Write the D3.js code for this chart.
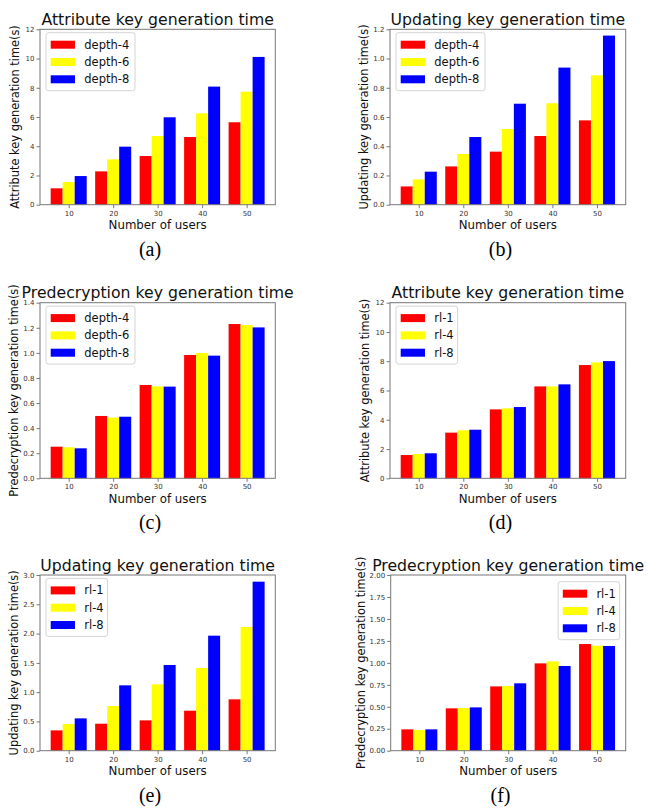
<!DOCTYPE html>
<html>
<head>
<meta charset="utf-8">
<script src="https://cdn.jsdelivr.net/npm/d3@7"></script>
<style>
  html, body { margin: 0; padding: 0; background: #fff; }
  svg { display: block; }
</style>
</head>
<body>
<svg id="chart" width="647" height="808"></svg>
<script>
// ---------- data ----------
const users = ["10", "20", "30", "40", "50"];
const depthSeries = ["depth-4", "depth-6", "depth-8"];
const rlSeries = ["rl-1", "rl-4", "rl-8"];
const seriesColors = ["#ff0000", "#ffff00", "#0000ff"];

// (a) Attribute key generation time by depth
const attrDepth4 = [1.12, 2.28, 3.33, 4.63, 5.64];
const attrDepth6 = [1.55, 3.10, 4.70, 6.25, 7.73];
const attrDepth8 = [1.96, 3.97, 5.98, 8.08, 10.11];
// (b) Updating key generation time by depth
const updDepth4 = [0.125, 0.262, 0.363, 0.470, 0.577];
const updDepth6 = [0.173, 0.347, 0.518, 0.694, 0.885];
const updDepth8 = [0.226, 0.463, 0.691, 0.938, 1.157];
// (c) Predecryption key generation time by depth
const preDepth4 = [0.252, 0.497, 0.744, 0.983, 1.230];
const preDepth6 = [0.247, 0.484, 0.733, 0.999, 1.222];
const preDepth8 = [0.239, 0.491, 0.731, 0.978, 1.203];
// (d) Attribute key generation time by rl
const attrRl1 = [1.59, 3.12, 4.71, 6.28, 7.74];
const attrRl4 = [1.66, 3.28, 4.78, 6.28, 7.92];
const attrRl8 = [1.71, 3.32, 4.87, 6.42, 8.01];
// (e) Updating key generation time by rl
const updRl1 = [0.347, 0.461, 0.518, 0.683, 0.877];
const updRl4 = [0.455, 0.763, 1.133, 1.412, 2.112];
const updRl8 = [0.552, 1.116, 1.463, 1.964, 2.886];
// (f) Predecryption key generation time by rl
const preRl1 = [0.243, 0.482, 0.732, 0.994, 1.214];
const preRl4 = [0.235, 0.486, 0.736, 1.017, 1.195];
const preRl8 = [0.243, 0.493, 0.767, 0.964, 1.192];

const titles = ["Attribute key generation time", "Updating key generation time",
  "Predecryption key generation time", "Attribute key generation time",
  "Updating key generation time", "Predecryption key generation time"];
const yLabels = ["Attribute key generation time(s)", "Updating key generation time(s)",
  "Predecryption key generation time(s)", "Attribute key generation time(s)",
  "Updating key generation time(s)", "Predecryption key generation time(s)"];
const xLabel = "Number of users";
const captions = ["(a)", "(b)", "(c)", "(d)", "(e)", "(f)"];
const yTicksA = [0, 2, 4, 6, 8, 10, 12];
const yTicksB = [0, 0.2, 0.4, 0.6, 0.8, 1.0, 1.2];
const yTicksC = [0, 0.2, 0.4, 0.6, 0.8, 1.0, 1.2, 1.4];
const yTicksD = [0, 2, 4, 6, 8, 10, 12];
const yTicksE = [0, 0.5, 1.0, 1.5, 2.0, 2.5, 3.0];
const yTicksF = [0, 0.25, 0.5, 0.75, 1.0, 1.25, 1.5, 1.75, 2.0];

// ---------- layout (positions / styles) ----------
const panels = [
  { values: [attrDepth4, attrDepth6, attrDepth8], names: depthSeries, ticks: yTicksA, fmt: "d",
    box: { l: 40, r: 275.3, t: 29.3, b: 204.7 }, legend: "left", cap: { x: 150, y: 256 }, ylx: 15 },
  { values: [updDepth4, updDepth6, updDepth8], names: depthSeries, ticks: yTicksB, fmt: ".1f",
    box: { l: 390, r: 625.7, t: 29.3, b: 204.7 }, legend: "left", cap: { x: 500.5, y: 256 }, ylx: 364 },
  { values: [preDepth4, preDepth6, preDepth8], names: depthSeries, ticks: yTicksC, fmt: ".1f",
    box: { l: 40, r: 275.3, t: 302.7, b: 478.3 }, legend: "left", cap: { x: 150, y: 529 }, ylx: 14 },
  { values: [attrRl1, attrRl4, attrRl8], names: rlSeries, ticks: yTicksD, fmt: "d",
    box: { l: 390, r: 625.7, t: 302.7, b: 478.3 }, legend: "left", cap: { x: 500.5, y: 529 }, ylx: 365 },
  { values: [updRl1, updRl4, updRl8], names: rlSeries, ticks: yTicksE, fmt: ".1f",
    box: { l: 40, r: 275.3, t: 575, b: 750.7 }, legend: "left", cap: { x: 150, y: 802 }, ylx: 13.5 },
  { values: [preRl1, preRl4, preRl8], names: rlSeries, ticks: yTicksF, fmt: ".2f",
    box: { l: 390.7, r: 625.7, t: 575, b: 750.7 }, legend: "right", cap: { x: 500.5, y: 802 }, ylx: 361 }
];

const FONT = "'DejaVu Sans', sans-serif";
const svg = d3.select("#chart");
const barW = 0.27;

panels.forEach((p, pi) => {
  const g = svg.append("g");
  const x = d3.scaleLinear().domain([-0.645, 4.645]).range([p.box.l, p.box.r]);
  const yMax = p.ticks[p.ticks.length - 1];
  const y = d3.scaleLinear().domain([0, yMax]).range([p.box.b, p.box.t]);

  // bars
  p.values.forEach((vals, si) => {
    g.append("g").selectAll("rect").data(vals).join("rect")
      .attr("x", (d, i) => x(i + (si - 1) * barW - barW / 2))
      .attr("width", x(barW) - x(0))
      .attr("y", d => y(d))
      .attr("height", d => y(0) - y(d))
      .attr("fill", seriesColors[si]);
  });

  // axes
  const xAxis = d3.axisBottom(x).tickValues(d3.range(users.length))
    .tickFormat(i => users[i]).tickSize(3.5).tickSizeOuter(0).tickPadding(2.5);
  const gx = g.append("g").attr("transform", `translate(0,${p.box.b})`).call(xAxis);
  const yAxis = d3.axisLeft(y).tickValues(p.ticks).tickFormat(d3.format(p.fmt))
    .tickSize(3.5).tickSizeOuter(0).tickPadding(2);
  const gy = g.append("g").attr("transform", `translate(${p.box.l},0)`).call(yAxis);
  [gx, gy].forEach(a => {
    a.select(".domain").remove();
    a.selectAll(".tick line").attr("stroke", "#555").attr("stroke-width", 0.8);
    a.selectAll(".tick text").attr("fill", "#333").style("font-family", FONT).style("font-size", "7px");
  });

  // frame
  g.append("rect")
    .attr("x", p.box.l).attr("y", p.box.t)
    .attr("width", p.box.r - p.box.l).attr("height", p.box.b - p.box.t)
    .attr("fill", "none").attr("stroke", "#777").attr("stroke-width", 1);

  const cx = (p.box.l + p.box.r) / 2;
  // title
  g.append("text").attr("x", cx).attr("y", p.box.t - 4.3)
    .attr("text-anchor", "middle").style("font-family", FONT).style("font-size", "15.7px")
    .attr("fill", "#111").text(titles[pi]);
  // x label
  g.append("text").attr("x", cx).attr("y", p.box.b + 24.5)
    .attr("text-anchor", "middle").style("font-family", FONT).style("font-size", "11.8px")
    .attr("fill", "#111").text(xLabel);
  // y label
  const cy = (p.box.t + p.box.b) / 2;
  g.append("text").attr("transform", `translate(${p.ylx},${cy}) rotate(-90)`)
    .attr("text-anchor", "middle").attr("dominant-baseline", "central")
    .style("font-family", FONT).style("font-size", "11.4px")
    .attr("fill", "#111").text(yLabels[pi]);
  // caption
  g.append("text").attr("x", p.cap.x).attr("y", p.cap.y)
    .attr("text-anchor", "middle").style("font-family", "'Liberation Serif', 'Times New Roman', serif")
    .style("font-size", "20px").attr("fill", "#000").text(captions[pi]);

  // legend
  const lgW = p.names[0].startsWith("depth") ? 89 : 61.6;
  const lgH = 58;
  const lx = p.legend === "left" ? p.box.l + 6 : p.box.r - 6 - lgW;
  const ly = p.box.t + (p.legend === "left" ? 3.4 : 6.7);
  const lg = g.append("g").attr("transform", `translate(${lx},${ly})`);
  lg.append("rect").attr("width", lgW).attr("height", lgH).attr("rx", 2.5)
    .attr("fill", "#fff").attr("fill-opacity", 0.85).attr("stroke", "#d4d4d4").attr("stroke-width", 1);
  p.names.forEach((nm, si) => {
    const rowC = 12 + si * 17.3;
    lg.append("rect").attr("x", 4.7).attr("y", rowC - 4).attr("width", 24.3).attr("height", 8)
      .attr("fill", seriesColors[si]);
    lg.append("text").attr("x", 38.3).attr("y", rowC).attr("dominant-baseline", "central")
      .style("font-family", FONT).style("font-size", "11.5px").attr("fill", "#111").text(nm);
  });
});
</script>
</body>
</html>
